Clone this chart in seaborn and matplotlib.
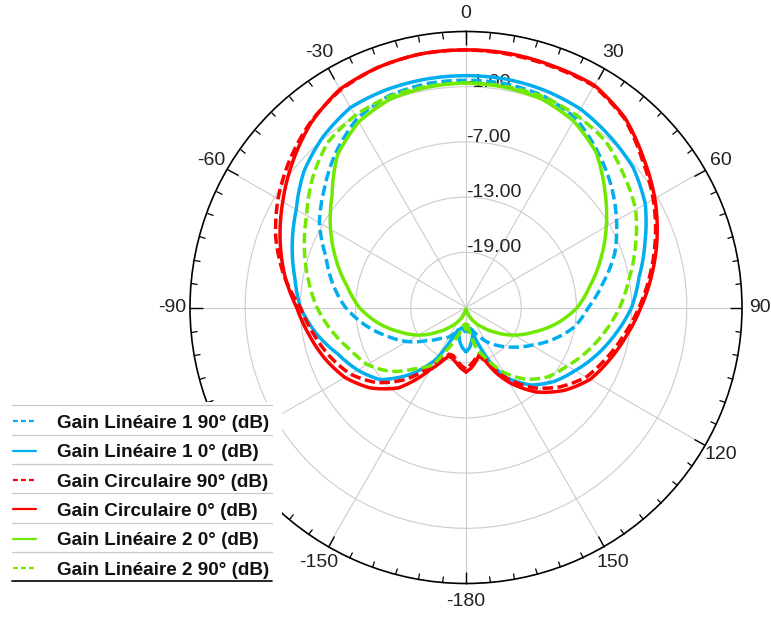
import numpy as np
import matplotlib
matplotlib.use('Agg')
import matplotlib.pyplot as plt
from matplotlib.lines import Line2D
from matplotlib.ticker import MultipleLocator
import seaborn as sns

sns.set_style('white')
plt.rcParams['font.family'] = ['Liberation Sans', 'DejaVu Sans']

# angles in degrees (0 at top, clockwise)
ANGLES = [-180, -175, -170, -165, -160, -155, -150, -140, -130, -120, -110, -100,
          -90, -80, -70, -60, -50, -40, -30, -20, -10, 0, 10, 20, 30, 40, 50, 60,
          70, 80, 90, 100, 110, 120, 130, 140, 150, 155, 160, 165, 170, 175, 180]

LIN1_90 = [-22.3, -22.5, -22.8, -22.6, -22.2, -21.8, -21.3, -20.6, -19.4, -17.6, -15.9, -13.9,
           -11.9, -10.3, -8.8, -6.6, -4.9, -3.0, -1.3, -0.5, -0.3, -0.3, -0.3, -0.5, -1.2, -2.8, -4.4, -6.1,
           -7.8, -9.9, -11.7, -13.0, -14.9, -16.8, -18.3, -19.6, -20.8, -21.5, -22.0, -22.5, -22.8, -22.5, -22.3]

LIN1_0 = [-20.2, -20.6, -21.2, -22.0, -22.4, -21.0, -18.5, -15.5, -12.8, -11.4, -10.2, -8.5,
          -7.0, -6.1, -4.9, -3.7, -2.0, -0.8, 0.1, 0.2, 0.2, 0.2, 0.2, 0.1, -0.1, -0.7, -1.3, -2.5,
          -4.3, -5.9, -7.0, -8.5, -9.9, -11.3, -12.5, -14.0, -16.2, -18.0, -20.3, -22.1, -21.4, -20.6, -20.2]

CIRC_90 = [-18.3, -18.7, -19.2, -19.6, -19.6, -18.9, -17.9, -14.8, -12.3, -10.5, -9.3, -8.2,
           -7.0, -4.9, -3.0, -1.4, 0.0, 1.3, 2.3, 2.8, 3.0, 3.0, 2.9, 2.8, 2.8, 1.8, 0.0, -1.5,
           -3.1, -4.7, -6.2, -7.6, -8.8, -9.9, -11.6, -13.6, -16.1, -17.6, -19.1, -19.7, -19.3, -18.8, -18.3]

CIRC_0 = [-18.0, -18.4, -18.9, -19.3, -19.4, -18.4, -17.2, -13.6, -11.4, -9.8, -8.7, -7.7,
          -6.6, -5.0, -3.5, -2.0, -0.4, 1.2, 2.4, 2.8, 3.0, 3.0, 3.0, 2.9, 2.9, 1.9, 0.2, -1.3,
          -2.9, -4.5, -6.0, -7.3, -8.4, -9.4, -11.0, -13.0, -15.6, -17.1, -18.8, -19.6, -19.0, -18.4, -18.0]

LIN2_0 = [-24.8, -24.8, -24.6, -24.4, -24.0, -23.6, -23.2, -22.2, -20.8, -19.0, -17.3, -15.3,
          -13.4, -11.9, -10.0, -8.0, -6.0, -3.3, -1.7, -0.9, -0.7, -0.6, -0.7, -0.9, -1.6, -3.0, -5.3, -7.4,
          -9.4, -11.3, -12.9, -15.0, -17.2, -19.0, -20.8, -22.2, -23.2, -23.6, -24.0, -24.4, -24.6, -24.8, -24.8]

LIN2_90 = [-22.5, -23.2, -22.8, -22.0, -21.0, -19.8, -17.8, -16.3, -14.2, -12.6, -11.6, -10.2,
           -8.8, -7.6, -6.3, -5.0, -3.2, -1.6, -0.9, -0.6, -0.6, -0.6, -0.6, -0.6, -0.9, -1.4, -2.6, -3.7,
           -5.4, -7.0, -8.3, -9.7, -11.0, -12.3, -13.3, -14.8, -16.9, -18.2, -19.4, -20.2, -21.8, -23.5, -22.5]

LABELS = ['Gain Linéaire 1 90° (dB)', 'Gain Linéaire 1 0° (dB)', 'Gain Circulaire 90° (dB)',
          'Gain Circulaire 0° (dB)', 'Gain Linéaire 2 0° (dB)', 'Gain Linéaire 2 90° (dB)']
SERIES = [LIN1_90, LIN1_0, CIRC_90, CIRC_0, LIN2_0, LIN2_90]
COLORS = ['#00aeef', '#00aeef', '#ff0000', '#ff0000', '#70e800', '#70e800']
DASHED = [True, False, True, False, False, True]

# -120 sits under the legend in the original
THETA_LABELS = ['0', '30', '60', '90', '120', '150', '-180', '-150', '', '-90', '-60', '-30']
RINGS = [-19, -13, -7, -1]

fig = plt.figure(figsize=(7.71, 6.21), dpi=100)
W, H = 771, 621
ax = fig.add_axes([190 / W, 1 - 583.5 / H, 552 / W, 552 / H], projection='polar')
ax.set_theta_zero_location('N')
ax.set_theta_direction(-1)

theta = np.deg2rad(ANGLES)
for values, color, dashed in zip(SERIES, COLORS, DASHED):
    ls = (0, (3.0, 1.3)) if dashed else '-'
    sns.lineplot(x=theta, y=values, ax=ax, color=color, linestyle=ls,
                 linewidth=2.5, sort=False, legend=False, zorder=3)

# let the polar transform bend each segment along r/theta
for line in ax.get_lines():
    line.get_path()._interpolation_steps = 16

ax.set_ylim(-25, 5)
ax.set_xlabel('')
ax.set_ylabel('')
ax.set_thetagrids(np.arange(0, 360, 30), labels=THETA_LABELS)
ax.xaxis.set_minor_locator(MultipleLocator(np.deg2rad(5)))
# tick2 is the outer ring on a polar theta axis
ax.tick_params(axis='x', which='both', bottom=False, top=True)
ax.tick_params(axis='x', which='major', direction='in', length=9, width=1.0,
               color='black', pad=6, labelsize=14, labelcolor='#222222')
ax.tick_params(axis='x', which='minor', direction='in', length=4.5, width=0.9, color='black')
ax.set_yticks(RINGS)
ax.set_yticklabels([])
ax.grid(True, which='major', color='#cccccc', linewidth=0.8)
ax.set_axisbelow(True)
ax.spines['polar'].set_color('black')
ax.spines['polar'].set_linewidth(1.2)

for r in RINGS:
    ax.text(0, r, f'{r:.2f}', ha='left', va='baseline', fontsize=14,
            color='#222222', zorder=1)

handles = [Line2D([], [], color=c, lw=1.6, linestyle=(0, (2.2, 1.4)) if d else '-')
           for c, d in zip(COLORS, DASHED)]
leg = fig.legend(handles, LABELS, loc='upper left', bbox_to_anchor=(0.5 / W, 1 - 402 / H),
                 bbox_transform=fig.transFigure, frameon=True, fancybox=False, framealpha=1,
                 facecolor='white', edgecolor='none', borderpad=0.68, borderaxespad=0,
                 labelspacing=0.64, handlelength=1.22, handletextpad=1.1,
                 prop={'weight': 'bold', 'size': 13.6})
for t in leg.get_texts():
    t.set_color('#111111')

# row separators of the legend
fig.canvas.draw()
renderer = fig.canvas.get_renderer()
centers = []
for t in leg.get_texts():
    bb = t.get_window_extent(renderer)
    centers.append((bb.y0 + bb.y1) / 2)

lines_y = [centers[0] + 18.5] + [c - 11 for c in centers]
for i, y in enumerate(lines_y):
    last = i == len(lines_y) - 1
    fig.add_artist(Line2D([12 / W, 272 / W], [y / H, y / H], transform=fig.transFigure,
                          color='black' if last else '#c8c8c8', lw=1.2 if last else 0.9, zorder=6))

fig.savefig('out.png', dpi=100)
